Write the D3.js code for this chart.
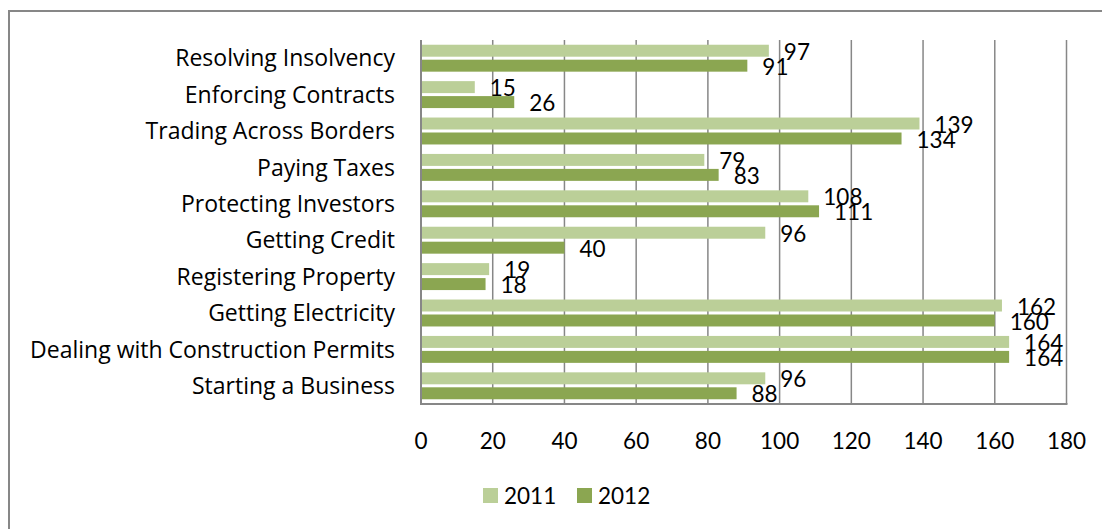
<!DOCTYPE html>
<html>
<head>
<meta charset="utf-8">
<script src="https://cdn.jsdelivr.net/npm/d3@7"></script>
<style>
  body { margin: 0; background: #fff; }
  svg text { font-family: Lato, "Noto Sans", sans-serif; fill: #000; }
  svg text.cat { font-family: "Open Sans", "Noto Sans", sans-serif; }
</style>
</head>
<body>
<script>
// categories top to bottom, as they appear in the chart
var categories = [
  'Resolving Insolvency',
  'Enforcing Contracts',
  'Trading Across Borders',
  'Paying Taxes',
  'Protecting Investors',
  'Getting Credit',
  'Registering Property',
  'Getting Electricity',
  'Dealing with Construction Permits',
  'Starting a Business'
];
var series = ['2011', '2012'];
var values2011 = [97, 15, 139, 79, 108, 96, 19, 162, 164, 96];
var values2012 = [91, 26, 134, 83, 111, 40, 18, 160, 164, 88];
var tickValues = [0, 20, 40, 60, 80, 100, 120, 140, 160, 180];
var colors = ['#bbcf98', '#8ba651'];

var width = 1102, height = 529;
var svg = d3.select('body').append('svg').attr('width', width).attr('height', height);

// outer chart frame (runs off the right and bottom edges)
svg.append('rect')
  .attr('x', 9).attr('y', 11)
  .attr('width', width + 20).attr('height', height + 20)
  .attr('fill', 'none').attr('stroke', '#878787').attr('stroke-width', 2);

var x = d3.scaleLinear().domain([0, 180]).range([421, 1066.5]);
var y = d3.scaleBand().domain(categories).range([40, 404])
  .paddingInner(0.26).paddingOuter(0.13);
var ySub = d3.scaleBand().domain(series).range([0, y.bandwidth()]).paddingInner(0.2);

// gridlines
svg.append('g').selectAll('line')
  .data(tickValues)
  .enter().append('line')
  .attr('x1', d => x(d)).attr('x2', d => x(d))
  .attr('y1', 40).attr('y2', 404)
  .attr('stroke', '#878787').attr('stroke-width', 1.5);

var rows = categories.map((c, i) => ({ cat: c, vals: [values2011[i], values2012[i]] }));

var groups = svg.append('g').selectAll('g')
  .data(rows)
  .enter().append('g')
  .attr('transform', d => 'translate(0,' + y(d.cat) + ')');

groups.selectAll('rect')
  .data(d => d.vals.map((v, j) => ({ s: series[j], v: v, j: j })))
  .enter().append('rect')
  .attr('x', x(0))
  .attr('y', d => ySub(d.s))
  .attr('width', d => x(d.v) - x(0))
  .attr('height', ySub.bandwidth())
  .attr('fill', d => colors[d.j]);

// axis lines
svg.append('line').attr('x1', x(0)).attr('x2', x(0)).attr('y1', 40).attr('y2', 404.5)
  .attr('stroke', '#878787').attr('stroke-width', 2);
svg.append('line').attr('x1', x(0) - 1).attr('x2', x(180) + 1).attr('y1', 404).attr('y2', 404)
  .attr('stroke', '#878787').attr('stroke-width', 2);

// value labels
groups.selectAll('text.val')
  .data(d => d.vals.map((v, j) => ({ s: series[j], v: v })))
  .enter().append('text')
  .attr('class', 'val')
  .attr('x', d => x(d.v) + 15)
  .attr('y', d => ySub(d.s) + ySub.bandwidth() / 2 + 1)
  .attr('dy', '0.36em')
  .attr('font-size', 22.5)
  .text(d => d.v);

// category labels
svg.append('g').selectAll('text')
  .data(categories)
  .enter().append('text')
  .attr('class', 'cat')
  .attr('x', 395)
  .attr('y', d => y(d) + y.bandwidth() / 2)
  .attr('dy', '0.36em')
  .attr('text-anchor', 'end')
  .attr('font-size', 23)
  .text(d => d);

// x tick labels
svg.append('g').selectAll('text')
  .data(tickValues)
  .enter().append('text')
  .attr('x', d => x(d))
  .attr('y', 441)
  .attr('dy', '0.36em')
  .attr('text-anchor', 'middle')
  .attr('font-size', 22.5)
  .text(d => d);

// legend
var legendX = [483, 577];
var legend = svg.append('g').selectAll('g')
  .data(series)
  .enter().append('g')
  .attr('transform', (d, i) => 'translate(' + legendX[i] + ',488)');
legend.append('rect').attr('width', 15).attr('height', 15)
  .attr('fill', (d, i) => colors[i]);
legend.append('text')
  .attr('x', 21).attr('y', 7.5).attr('dy', '0.36em')
  .attr('font-size', 22.5)
  .text(d => d);
</script>
</body>
</html>
